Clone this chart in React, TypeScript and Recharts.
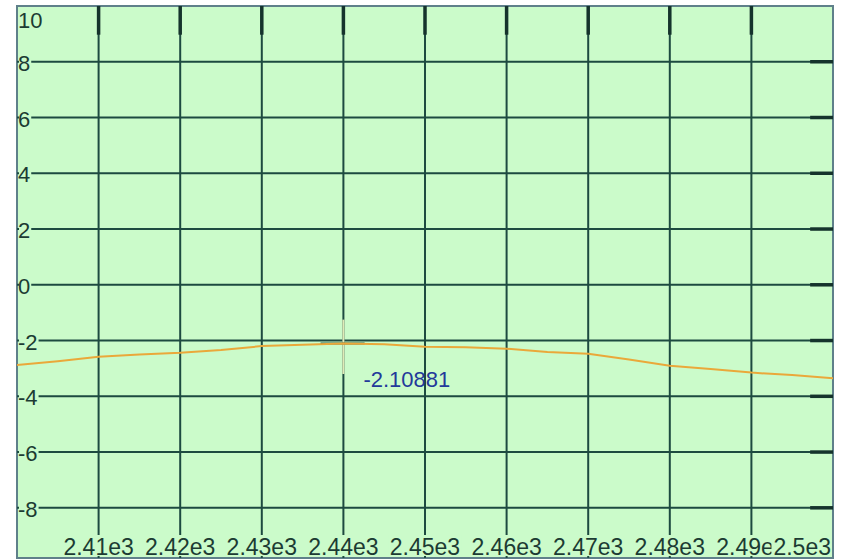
import React from "react";
import { LineChart, Line, XAxis, YAxis, ReferenceLine, ReferenceArea, ReferenceDot } from "recharts";

const xValues = [2400, 2405, 2410, 2415, 2420, 2425, 2430, 2435, 2440, 2445, 2450, 2455, 2460, 2465, 2470, 2475, 2480, 2485, 2490, 2495, 2500];
const yValues = [-2.88, -2.74, -2.58, -2.5, -2.44, -2.34, -2.2, -2.15, -2.11, -2.13, -2.22, -2.24, -2.29, -2.41, -2.47, -2.68, -2.9, -3.02, -3.15, -3.24, -3.35];
const xTicks = [2410, 2420, 2430, 2440, 2450, 2460, 2470, 2480, 2490, 2500];
// the last-but-one label is partly hidden by "2.5e3" in the reference; only "2.49e" is visible
const xTickLabels = ["2.41e3", "2.42e3", "2.43e3", "2.44e3", "2.45e3", "2.46e3", "2.47e3", "2.48e3", "2.49e", "2.5e3"];
const yTicks = [10, 8, 6, 4, 2, 0, -2, -4, -6, -8];
const yTickLabels = ["10", "8", "6", "4", "2", "0", "-2", "-4", "-6", "-8"];
const cursorX = 2440;
const cursorValue = -2.10881;

const X_MIN = 2400;
const X_MAX = 2500;
const Y_MIN = -9.8;
const Y_MAX = 10;

const BG = "#cbfbca";
const GRID = "#1d4a40";
const TEXT = "#1c3b33";
const BORDER = "#5f808a";
const FONT = "'Liberation Sans', Arial, sans-serif";
const X_FONT = 23;

const data = xValues.map((x, i) => ({ x, y: yValues[i] }));

const charW = (s: string, size: number) =>
  s.split("").reduce((a, c) => a + (c === "." ? 0.278 : c === "-" ? 0.333 : 0.556), 0) * size;

const FULL_W = charW("2.41e3", X_FONT);

export default function App() {
  return (
    <div style={{ position: "absolute", left: 0, top: 0, width: 842, height: 560, background: "#ffffff" }}>
      <LineChart
        width={842}
        height={560}
        data={data}
        margin={{ top: 6, right: 9, bottom: 2, left: 17 }}
      >
        <XAxis dataKey="x" type="number" domain={[X_MIN, X_MAX]} hide allowDataOverflow />
        <YAxis type="number" domain={[Y_MIN, Y_MAX]} hide allowDataOverflow />
        <ReferenceArea x1={X_MIN} x2={X_MAX} y1={Y_MIN} y2={Y_MAX} fill={BG} fillOpacity={1} stroke="none" />
        {xTicks.filter((t) => t < X_MAX).map((t) => (
          <ReferenceLine key={"vg" + t} x={t} stroke={GRID} strokeWidth={2} />
        ))}
        {yTicks.filter((t) => t < Y_MAX).map((t) => (
          <ReferenceLine key={"hg" + t} y={t} stroke={GRID} strokeWidth={2} />
        ))}
        {xTicks.filter((t) => t < X_MAX).map((t) => (
          <ReferenceLine key={"tt" + t} segment={[{ x: t, y: Y_MAX }, { x: t, y: 8.97 }]} stroke="#15332c" strokeWidth={3.5} />
        ))}
        {yTicks.filter((t) => t < Y_MAX).map((t) => (
          <ReferenceLine key={"rt" + t} segment={[{ x: 2497.2, y: t }, { x: X_MAX, y: t }]} stroke="#15332c" strokeWidth={3.5} />
        ))}
        <ReferenceLine segment={[{ x: cursorX, y: -1.25 }, { x: cursorX, y: -3.2 }]} stroke="#dfeab8" strokeWidth={2} />
        <ReferenceLine segment={[{ x: 2437.2, y: cursorValue }, { x: 2442.6, y: cursorValue }]} stroke="#2f5a48" strokeWidth={2} />
        <Line
          dataKey="y"
          type="linear"
          stroke="#eaa83a"
          strokeWidth={2}
          dot={false}
          isAnimationActive={false}
        />
        {xTicks.map((t, i) => (
          <ReferenceDot
            key={"xl" + t}
            x={t}
            y={Y_MIN}
            ifOverflow="visible"
            shape={(p: any) => {
              const label = xTickLabels[i];
              const w = charW(label, X_FONT);
              const last = i === xTicks.length - 1;
              const truncated = i === xTicks.length - 2;
              const textX = last ? p.cx - 2 : truncated ? p.cx - FULL_W / 2 : p.cx;
              const anchor = last ? "end" : truncated ? "start" : "middle";
              const left = last ? p.cx - 2 - w - 2 : truncated ? textX - 1 : p.cx - w / 2 - 1;
              return (
                <g>
                  <rect x={left} y={p.cy - 23} width={w + 2} height={21} fill={BG} />
                  <text
                    x={textX}
                    y={p.cy - 3}
                    textAnchor={anchor}
                    fontSize={X_FONT}
                    fontFamily={FONT}
                    fill={TEXT}
                  >
                    {label}
                  </text>
                </g>
              );
            }}
          />
        ))}
        {yTicks.map((t, i) => (
          <ReferenceDot
            key={"yl" + t}
            x={X_MIN}
            y={t}
            ifOverflow="visible"
            shape={(p: any) => {
              const label = yTickLabels[i];
              const w = charW(label, 22);
              const top = i === 0;
              return (
                <g>
                  {!top && <rect x={p.cx + 2} y={p.cy - 3} width={w} height={6} fill={BG} />}
                  <text
                    x={p.cx + 1}
                    y={top ? p.cy + 22 : p.cy + 9}
                    textAnchor="start"
                    fontSize={22}
                    fontFamily={FONT}
                    fill={TEXT}
                  >
                    {label}
                  </text>
                </g>
              );
            }}
          />
        ))}
        <ReferenceDot
          x={cursorX}
          y={cursorValue}
          ifOverflow="visible"
          shape={(p: any) => (
            <text x={p.cx + 20} y={p.cy + 43} fontSize={22} fontFamily={FONT} fill="#23399a">
              {String(cursorValue)}
            </text>
          )}
        />
        <ReferenceArea x1={X_MIN} x2={X_MAX} y1={Y_MIN} y2={Y_MAX} fill="none" stroke={BORDER} strokeWidth={2} />
      </LineChart>
    </div>
  );
}
